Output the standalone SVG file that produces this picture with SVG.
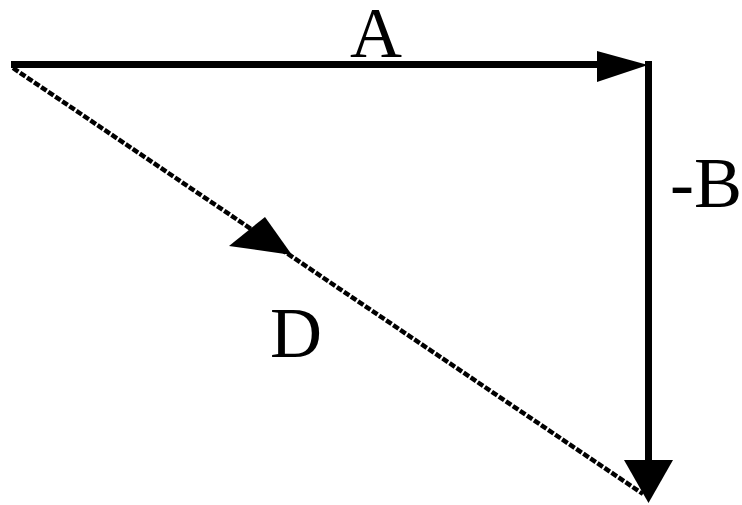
<svg xmlns="http://www.w3.org/2000/svg" width="742" height="505" viewBox="0 0 742 505">
  <style>
    .vec { stroke: #000; stroke-width: 7; fill: none; }
    .dot { stroke: #000; stroke-width: 4.5; fill: none; stroke-dasharray: 6.5 2; }
    .head { fill: #000; stroke: none; }
    .lbl { font-family: "Liberation Serif", "Times New Roman", serif; font-size: 72px; fill: #000; }
  </style>
  <rect width="742" height="505" fill="#fff"/>
  <g id="connectors">
    <g id="vector-A">
      <line class="vec" x1="11" y1="64.5" x2="600" y2="64.5"/>
      <polygon class="head" points="597,51 648,65 597,82"/>
    </g>
    <g id="vector-negB">
      <line class="vec" x1="648.5" y1="61" x2="648.5" y2="465"/>
      <polygon class="head" points="624,460 673,460 648.5,503"/>
    </g>
    <g id="vector-D">
      <line class="dot" x1="13" y1="68" x2="643" y2="494"/>
      <polygon class="head" points="265,217 229,246 292,255"/>
    </g>
  </g>
  <g id="labels">
    <text id="label-A" class="lbl" x="376" y="57" text-anchor="middle">A</text>
    <text id="label-negB" class="lbl" x="670" y="207">-B</text>
    <text id="label-D" class="lbl" x="270" y="357">D</text>
  </g>
</svg>
